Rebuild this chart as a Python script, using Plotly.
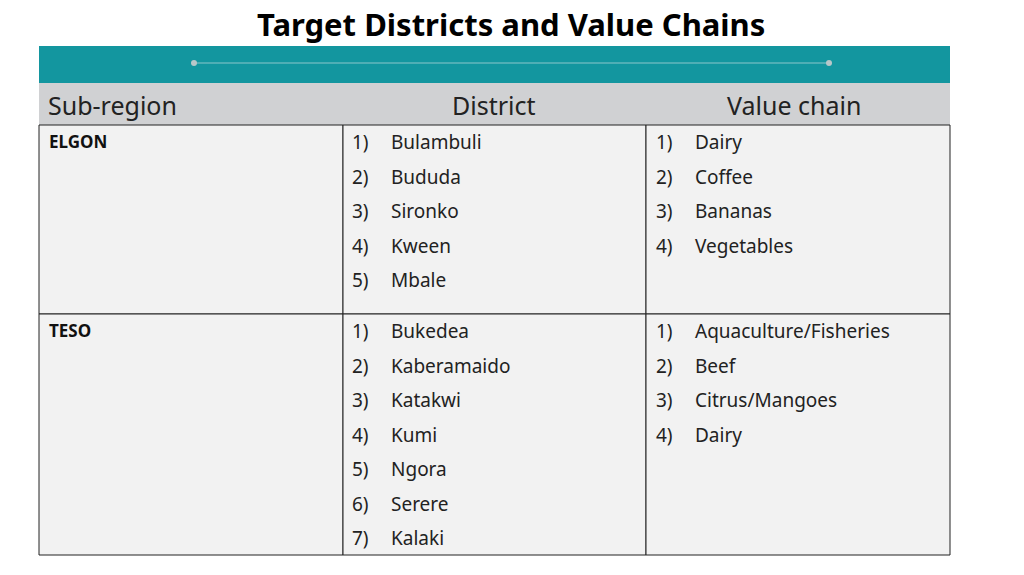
import plotly.graph_objects as go

title = "Target Districts and Value Chains"
headers = ["Sub-region", "District", "Value chain"]
subregions = ["ELGON", "TESO"]
elgon_districts = ["Bulambuli", "Bududa", "Sironko", "Kween", "Mbale"]
elgon_chains = ["Dairy", "Coffee", "Bananas", "Vegetables"]
teso_districts = ["Bukedea", "Kaberamaido", "Katakwi", "Kumi", "Ngora", "Serere", "Kalaki"]
teso_chains = ["Aquaculture/Fisheries", "Beef", "Citrus/Mangoes", "Dairy"]

W, H = 1024, 575
cols = [39, 343, 646, 950]
row_tops = [125, 314]
row_bots = [314, 555]
FONT = "Noto Sans"

fig = go.Figure()
shapes, ann = [], []
shapes.append(dict(type="rect", x0=39, x1=950, y0=46, y1=83, fillcolor="#13969f", line_width=0, layer="below"))
shapes.append(dict(type="line", x0=194, x1=829, y0=63, y1=63, line=dict(color="#8cc6cb", width=1)))
for x in (194, 829):
    shapes.append(dict(type="circle", x0=x-3, x1=x+3, y0=60, y1=66, fillcolor="#b8c7c9", line_width=0))
shapes.append(dict(type="rect", x0=39, x1=950, y0=83, y1=125, fillcolor="#d0d1d3", line_width=0, layer="below"))
for t, b in zip(row_tops, row_bots):
    for i in range(3):
        shapes.append(dict(type="rect", x0=cols[i], x1=cols[i+1], y0=t, y1=b,
                           fillcolor="#f2f2f2", line=dict(color="#222", width=1), layer="below"))

ann.append(dict(x=511, y=24, text="<b>" + title + "</b>", font=dict(size=31, color="black", family=FONT)))
ann.append(dict(x=46, y=105, text=headers[0], xanchor="left", font=dict(size=25, color="#222", family=FONT)))
ann.append(dict(x=494, y=105, text=headers[1], font=dict(size=25, color="#222", family=FONT)))
ann.append(dict(x=794, y=105, text=headers[2], font=dict(size=25, color="#222", family=FONT)))

rows = [(subregions[0], elgon_districts, elgon_chains), (subregions[1], teso_districts, teso_chains)]
step = 34.5
for (name, dists, chains), t in zip(rows, row_tops):
    ann.append(dict(x=47, y=t+16, text="<b>" + name + "</b>", xanchor="left",
                    font=dict(size=17, color="#111", family=FONT)))
    for items, cx in ((dists, 350), (chains, 654)):
        for k, s in enumerate(items):
            y = t + 17 + k * step
            ann.append(dict(x=cx, y=y, text=f"{k+1})", xanchor="left", font=dict(size=19, color="#222", family=FONT)))
            ann.append(dict(x=cx+39, y=y, text=s, xanchor="left", font=dict(size=19, color="#222", family=FONT)))

for a in ann:
    a.update(xref="x", yref="y", showarrow=False, yanchor="middle")
    a.setdefault("xanchor", "center")

fig.update_layout(width=W, height=H, margin=dict(l=0, r=0, t=0, b=0),
                  paper_bgcolor="white", plot_bgcolor="white",
                  shapes=shapes, annotations=ann, showlegend=False,
                  xaxis=dict(range=[8, W + 8], visible=False, fixedrange=True),
                  yaxis=dict(range=[H + 8, 8], visible=False, fixedrange=True))
fig.write_html("out.html")
